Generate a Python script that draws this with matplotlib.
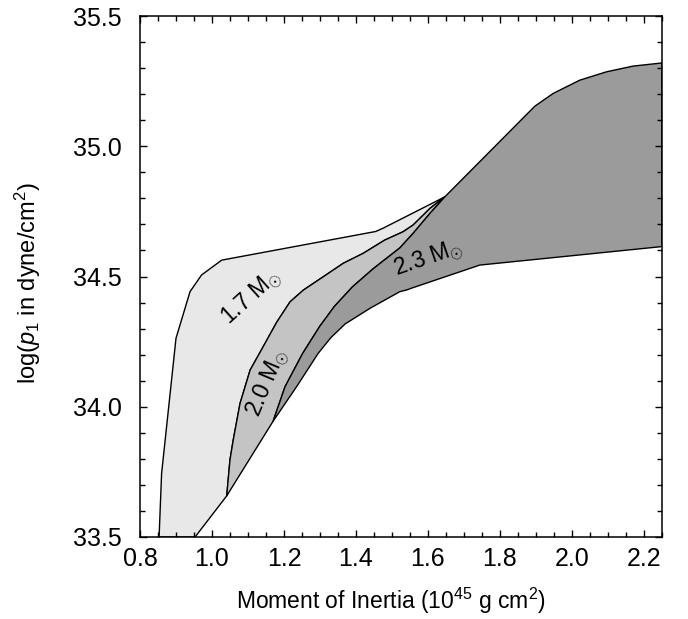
"""
Allowed region of log(p1) against moment of inertia for three maximum masses
(1.7, 2.0 and 2.3 solar masses), drawn as stacked grey bands.
"""

import matplotlib

matplotlib.use("Agg")  # no display required
import matplotlib.pyplot as plt
import matplotlib.ticker as mticker

# ---- data ------------------------------------------------------------------

# 1.7 Msun band: left / upper boundary, from the bottom axis up to the apex
light_edge_x = [0.853, 0.860, 0.900, 0.939, 0.971, 1.027, 1.455, 1.476, 1.647]
light_edge_y = [33.50, 33.744, 34.263, 34.442, 34.506, 34.563, 34.673, 34.686, 34.806]

# 2.0 Msun band: boundary against the 1.7 band, bottom corner to apex
mid_edge_x = [1.041, 1.050, 1.059, 1.078, 1.106, 1.142, 1.180, 1.217, 1.254,
              1.309, 1.365, 1.420, 1.480, 1.531, 1.559, 1.606, 1.647]
mid_edge_y = [33.658, 33.796, 33.872, 34.013, 34.141, 34.230, 34.325, 34.403, 34.448,
              34.499, 34.551, 34.589, 34.640, 34.672, 34.698, 34.762, 34.806]

# 2.3 Msun band: boundary against the 2.0 band, bottom corner to apex
dark_edge_x = [1.170, 1.203, 1.252, 1.300, 1.340, 1.390, 1.448, 1.522, 1.559, 1.606, 1.647]
dark_edge_y = [33.945, 34.077, 34.205, 34.310, 34.385, 34.460, 34.530, 34.610, 34.666, 34.743, 34.806]

# 2.3 Msun band: upper boundary from apex to the right edge
dark_top_x = [1.647, 1.897, 1.948, 2.022, 2.096, 2.170, 2.250]
dark_top_y = [34.806, 35.154, 35.203, 35.254, 35.286, 35.308, 35.320]

# lower boundary shared by all bands, left to right
lower_x = [0.953, 1.041, 1.170, 1.235, 1.295, 1.330, 1.370, 1.439, 1.522, 1.540, 1.560, 1.744, 2.250]
lower_y = [33.50, 33.658, 33.945, 34.077, 34.205, 34.265, 34.318, 34.378, 34.442, 34.448, 34.458, 34.544, 34.615]

band_labels = ["1.7", "2.0", "2.3"]
band_colors = ["#e8e8e8", "#c4c4c4", "#9b9b9b"]
label_x = [1.108, 1.155, 1.60]
label_y = [34.42, 34.09, 34.57]
label_rot = [42, 67, 19]


def pts(xs, ys):
    return list(zip(xs, ys))


# ---- plot ------------------------------------------------------------------

plt.rcParams["font.family"] = ["Liberation Sans", "DejaVu Sans"]
plt.rcParams["mathtext.fontset"] = "custom"
plt.rcParams["mathtext.rm"] = "Liberation Sans"
plt.rcParams["mathtext.it"] = "Liberation Sans:italic"

fig = plt.figure(figsize=(6.88, 6.19), dpi=100)
ax = fig.add_axes([0.2035, 0.1325, 0.7585, 0.8415])

# base corners below each band
n_mid = 1   # index of (1.041, 33.658) in lower_x
n_dark = 2  # index of (1.170, 33.945) in lower_x

light_poly = (pts(light_edge_x, light_edge_y)
              + pts(mid_edge_x, mid_edge_y)[::-1]
              + pts(lower_x[:n_mid], lower_y[:n_mid]))
mid_poly = (pts(mid_edge_x, mid_edge_y)
            + pts(dark_edge_x, dark_edge_y)[::-1])
dark_poly = (pts(dark_edge_x, dark_edge_y)
             + pts(dark_top_x, dark_top_y)
             + pts(lower_x[n_dark:], lower_y[n_dark:])[::-1])

for poly, color in zip([light_poly, mid_poly, dark_poly], band_colors):
    ax.fill(*zip(*poly), facecolor=color, edgecolor="black", linewidth=1.0,
            joinstyle="round", clip_on=True)

for lab, x, y, rot in zip(band_labels, label_x, label_y, label_rot):
    ax.text(x, y, lab + r" M$_{\odot}$", rotation=rot, fontsize=16.5,
            ha="center", va="center", rotation_mode="anchor")

ax.set_xlim(0.8, 2.25)
ax.set_ylim(33.5, 35.5)
ax.xaxis.set_major_locator(mticker.MultipleLocator(0.2))
ax.xaxis.set_minor_locator(mticker.MultipleLocator(0.05))
ax.yaxis.set_major_locator(mticker.MultipleLocator(0.5))
ax.yaxis.set_minor_locator(mticker.MultipleLocator(0.1))
ax.xaxis.set_major_formatter(mticker.FormatStrFormatter("%.1f"))
ax.yaxis.set_major_formatter(mticker.FormatStrFormatter("%.1f"))
ax.tick_params(which="both", direction="in", top=True, right=True,
               labelsize=18, width=1.0)
ax.tick_params(which="major", length=5)
ax.tick_params(axis="x", which="major", pad=7)
ax.tick_params(axis="y", which="major", pad=13)
ax.tick_params(which="minor", length=3.5)
for spine in ax.spines.values():
    spine.set_linewidth(1.1)

ax.set_xlabel(r"Moment of Inertia (10$^{45}$ g cm$^{2}$)", fontsize=16.5)
ax.set_ylabel(r"log($p_{1}$ in dyne/cm$^{2}$)", fontsize=17)
# reference places both axis titles a little off-centre
ax.xaxis.set_label_coords(0.481, -0.093)
ax.yaxis.set_label_coords(-0.186, 0.487)

fig.savefig("out.png", dpi=100)
plt.close(fig)
